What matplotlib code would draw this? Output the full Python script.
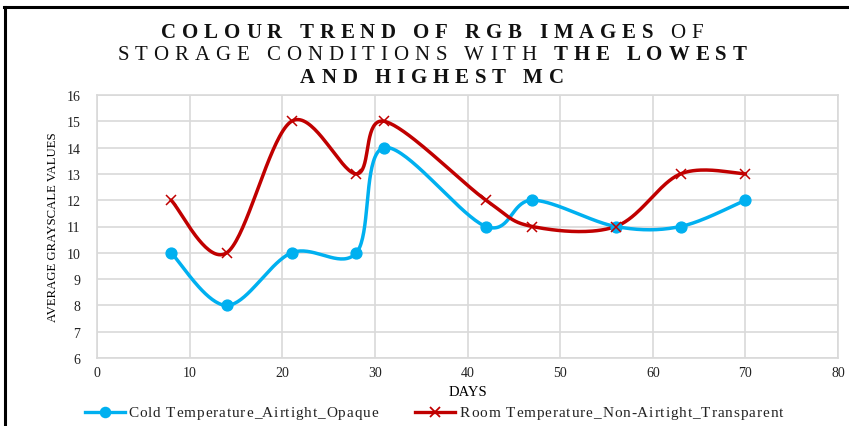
import numpy as np
import matplotlib
matplotlib.use("Agg")
import matplotlib.pyplot as plt
from matplotlib.transforms import IdentityTransform
from matplotlib.lines import Line2D

plt.rcParams['font.family'] = ['Liberation Serif', 'DejaVu Serif']

# ---- data ----
days = [8, 14, 21, 28, 31, 42, 47, 56, 63, 70]
cold_opaque = [10, 8, 10, 10, 14, 11, 12, 11, 11, 12]
room_transparent = [12, 10, 15, 13, 15, 12, 11, 11, 13, 13]
series_names = ["Cold Temperature_Airtight_Opaque",
                "Room Temperature_Non-Airtight_Transparent"]
x_ticks = [0, 10, 20, 30, 40, 50, 60, 70, 80]
y_ticks = [6, 7, 8, 9, 10, 11, 12, 13, 14, 15, 16]

title_lines = [
    [("COLOUR TREND OF RGB IMAGES", True), (" OF", False)],
    [("STORAGE CONDITIONS WITH ", False), ("THE LOWEST", True)],
    [("AND HIGHEST MC", True)],
]

BLUE = "#00B0F0"
RED = "#C00000"
GRID = "#D9D9D9"

W, H = 849, 427
fig = plt.figure(figsize=(W / 100, H / 100), dpi=100)
ax = fig.add_axes([97 / W, 1 - 359 / H, (838 - 97) / W, (359 - 96) / H])

ax.set_xlim(0, 80)
ax.set_ylim(6, 16)
ax.set_xticks(x_ticks)
ax.set_yticks(y_ticks)
ax.grid(True, color=GRID, lw=1.2)
ax.set_axisbelow(True)
for s in ax.spines.values():
    s.set_color(GRID)
    s.set_linewidth(1.2)
ax.tick_params(length=0, labelsize=10, colors="#222222")
ax.tick_params(axis="x", pad=6)
ax.tick_params(axis="y", pad=12)
ax.set_xlabel("DAYS", fontsize=10.5, labelpad=4)
ax.set_ylabel("AVERAGE GRAYSCALE VALUES", fontsize=9.2, labelpad=5)


def smooth(xs, ys, n=40):
    """Catmull-Rom style Bezier smoothing computed in display space."""
    pts = ax.transData.transform(np.column_stack([xs, ys]))
    p = np.vstack([pts[0], pts, pts[-1]])
    out = []
    for i in range(1, len(p) - 2):
        p0, p1, p2, p3 = p[i - 1], p[i], p[i + 1], p[i + 2]
        c1 = p1 + (p2 - p0) / 6.0
        c2 = p2 - (p3 - p1) / 6.0
        t = np.linspace(0, 1, n)[:, None]
        seg = ((1 - t) ** 3) * p1 + 3 * ((1 - t) ** 2) * t * c1 \
            + 3 * (1 - t) * t ** 2 * c2 + t ** 3 * p2
        out.append(seg if i == 1 else seg[1:])
    curve = np.vstack(out)
    return ax.transData.inverted().transform(curve)


c = smooth(days, cold_opaque)
ax.plot(c[:, 0], c[:, 1], color=BLUE, lw=2.5, solid_capstyle="round", zorder=3)
ax.plot(days, cold_opaque, ls="none", marker="o", ms=7.8, color=BLUE, zorder=4)
r = smooth(days, room_transparent)
ax.plot(r[:, 0], r[:, 1], color=RED, lw=2.5, solid_capstyle="round", zorder=3)
ax.plot(days, room_transparent, ls="none", marker="x", ms=7, mew=1.1,
        color=RED, zorder=4)

# ---- outer frame (top and left edges) ----
fig.add_artist(Line2D([5 / W, 5 / W], [0, 1 - 8 / H], color="black", lw=2.2,
                      transform=fig.transFigure))
fig.add_artist(Line2D([4 / W, 1], [1 - 8 / H, 1 - 8 / H], color="black", lw=2.2,
                      transform=fig.transFigure))

renderer = fig.canvas.get_renderer()
PIX = IdentityTransform()


def char_width(ch, size, bold):
    w = "bold" if bold else "normal"
    if ch == " ":
        a = fig.text(0, 0, "x x", fontsize=size, fontweight=w)
        b = fig.text(0, 0, "xx", fontsize=size, fontweight=w)
        res = a.get_window_extent(renderer).width - b.get_window_extent(renderer).width
        a.remove(); b.remove()
        return res
    t = fig.text(0, 0, ch, fontsize=size, fontweight=w)
    res = t.get_window_extent(renderer).width
    t.remove()
    return res


def tracked_text(segs, x, y_top, size, track, anchor="left", color="#111111"):
    """Draw text with extra letter spacing; y_top is baseline in pixels from top."""
    chars = [(ch, bold) for txt, bold in segs for ch in txt]
    widths = [char_width(ch, size, b) for ch, b in chars]
    total = sum(widths) + track * (len(chars) - 1)
    if anchor == "center":
        x = x - total / 2
    for (ch, bold), w in zip(chars, widths):
        if ch != " ":
            fig.text(x, H - y_top, ch, fontsize=size,
                     fontweight="bold" if bold else "normal",
                     transform=PIX, va="baseline", ha="left", color=color)
        x += w + track


# ---- letter-spaced title ----
for segs, base in zip(title_lines, [38, 60.5, 83]):
    tracked_text(segs, 432, base, 15, 5.9, anchor="center")

# ---- legend ----
leg_y = H - 413
legend_items = [(BLUE, "o", 85, 128), (RED, "x", 415, 460)]
for (col, mk, x0, tx), name in zip(legend_items, series_names):
    fig.add_artist(Line2D([x0, x0 + 40], [leg_y, leg_y], color=col, lw=2.4,
                          transform=PIX))
    fig.add_artist(Line2D([x0 + 20], [leg_y], color=col, marker=mk,
                          ms=7 if mk == "o" else 6.5, mew=1.3, ls="none",
                          transform=PIX))
    tracked_text([(name, False)], tx, 417.5, 11, 0.9, color="#222222")

fig.savefig("out.png", dpi=100)
